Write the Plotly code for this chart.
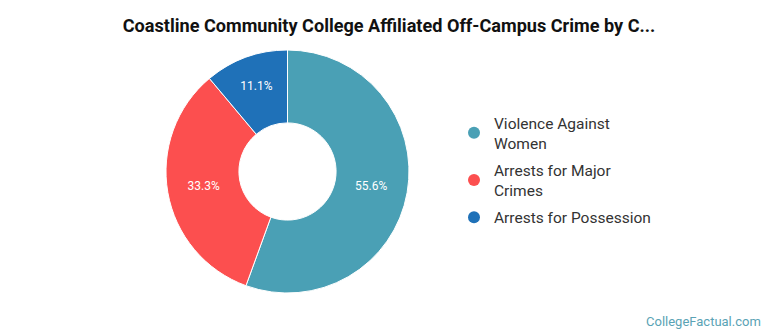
import plotly.graph_objects as go

labels = ["Violence Against<br>Women", "Arrests for Major<br>Crimes", "Arrests for Possession"]
values = [5, 3, 1]
colors = ["#4aa0b5", "#fc4f4f", "#1f71b8"]
title = "Coastline Community College Affiliated Off-Campus Crime by C..."

W, H = 770, 335
fig = go.Figure()
fig.add_trace(go.Pie(
    labels=labels, values=values, sort=False, direction="clockwise", rotation=0,
    hole=0.40, marker=dict(colors=colors, line=dict(color="white", width=1)),
    texttemplate="%{percent:.1%}", textposition="inside", insidetextorientation="horizontal",
    textfont=dict(family="Roboto", size=12, color="white"),
    domain=dict(x=[166 / W, 409 / W], y=[1 - 293 / H, 1 - 50 / H]),
    showlegend=False, hoverinfo="label+percent",
))
for i, (lab, col) in enumerate(zip(labels, colors)):
    fig.add_trace(go.Scatter(x=[None], y=[None], mode="markers", name=lab, legendgroup=f"g{i}",
                             marker=dict(color=col, size=17, symbol="circle")))

fig.update_layout(
    width=W, height=H, margin=dict(l=0, r=0, t=0, b=0),
    paper_bgcolor="white", plot_bgcolor="white",
    title=dict(text="<b>" + title + "</b>", x=389 / W, xanchor="center", y=1 - 26 / H, yanchor="middle",
               font=dict(family="Roboto", size=18.1, color="#111")),
    xaxis=dict(visible=False), yaxis=dict(visible=False),
    legend=dict(x=454 / W, y=1 - 106 / H, xanchor="left", yanchor="top",
                font=dict(family="Roboto", size=15.5, color="#333"), itemsizing="constant",
                tracegroupgap=4, bgcolor="rgba(0,0,0,0)"),
    annotations=[dict(text="CollegeFactual.com", x=763 / W, y=1 - 321 / H, xref="paper", yref="paper",
                      xanchor="right", yanchor="middle", showarrow=False,
                      font=dict(family="Roboto", size=13, color="#5aa3b5"))],
)
fig.write_html("out.html")
